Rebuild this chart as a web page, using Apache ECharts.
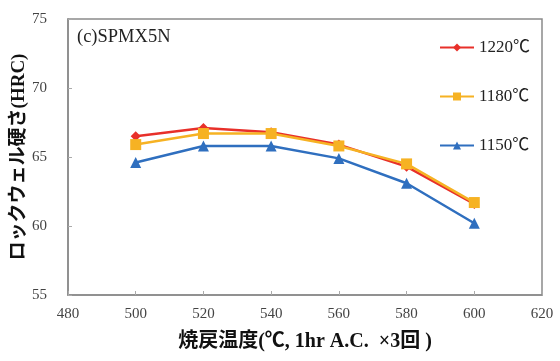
<!DOCTYPE html>
<html><head><meta charset="utf-8">
<script src="https://cdn.jsdelivr.net/npm/echarts@6/dist/echarts.min.js"></script>
<style>html,body{margin:0;padding:0;background:#fff}#c{width:560px;height:361px}</style>
</head><body><div id="c"></div>
<script>
const temps = [500, 520, 540, 560, 580, 600];
const s1220 = [66.5, 67.1, 66.8, 65.9, 64.3, 61.6];
const s1180 = [65.9, 66.7, 66.7, 65.8, 64.5, 61.7];
const s1150 = [64.6, 65.8, 65.8, 64.9, 63.1, 60.2];
const seriesNames = ['1220℃', '1180℃', '1150℃'];
const xName = '焼戻温度(℃, 1hr A.C.  ×3回 )';
const yName = 'ロックウェル硬さ(HRC)';
const titleText = '(c)SPMX5N';

const pair = a => temps.map((t, i) => [t, a[i]]);
const serif = '"Liberation Serif", "Noto Sans CJK JP", serif';
const chart = echarts.init(document.getElementById('c'), null, {renderer: 'canvas'});
chart.setOption({
  animation: false,
  backgroundColor: '#fff',
  title: {text: titleText, left: 72, top: 23, textStyle: {fontFamily: serif, fontSize: 18.5, fontWeight: 'normal', color: '#222'}},
  legend: {
    orient: 'vertical', right: 25, top: 34, itemGap: 32, itemWidth: 34, itemHeight: 10, itemTextGap: 3,
    textStyle: {fontFamily: serif, fontSize: 17, color: '#222'},
    data: seriesNames
  },
  grid: {left: 68, right: 18, top: 19, bottom: 66, containLabel: false, outerBoundsMode: 'none'},
  xAxis: {
    type: 'value', min: 480, max: 620, interval: 20,
    name: xName, nameLocation: 'middle', nameGap: 37, nameMoveOverlap: false,
    nameTextStyle: {fontFamily: serif, fontSize: 20, fontWeight: 'bold', color: '#111'},
    axisLine: {show: true, onZero: false, lineStyle: {color: '#8a8a8a', width: 1.5}},
    axisTick: {show: true, inside: true, length: 4, lineStyle: {color: '#aaa'}},
    axisLabel: {fontFamily: serif, fontSize: 15, color: '#444', margin: 12},
    splitLine: {show: false}
  },
  yAxis: {
    type: 'value', min: 55, max: 75, interval: 5,
    name: yName, nameLocation: 'middle', nameGap: 39, nameMoveOverlap: false,
    nameTextStyle: {fontFamily: serif, fontSize: 19, fontWeight: 'bold', color: '#111'},
    axisLine: {show: true, lineStyle: {color: '#8a8a8a', width: 1.5}},
    axisTick: {show: true, inside: true, length: 4, lineStyle: {color: '#aaa'}},
    axisLabel: {fontFamily: serif, fontSize: 15, color: '#444', margin: 21},
    splitLine: {show: false}
  },
  series: [
    {name: seriesNames[0], type: 'line', data: pair(s1220), symbol: 'diamond', symbolSize: 10,
     lineStyle: {color: '#e8302a', width: 2.5}, itemStyle: {color: '#e8302a'}},
    {name: seriesNames[1], type: 'line', data: pair(s1180), symbol: 'rect', symbolSize: 11,
     lineStyle: {color: '#f6b223', width: 2.5}, itemStyle: {color: '#f6b223'}},
    {name: seriesNames[2], type: 'line', data: pair(s1150), symbol: 'triangle', symbolSize: 11,
     lineStyle: {color: '#2f6fbf', width: 2.5}, itemStyle: {color: '#2f6fbf'}}
  ],
  graphic: [{type: 'rect', shape: {x: 68, y: 19, width: 474, height: 276}, style: {fill: 'none', stroke: '#8a8a8a', lineWidth: 1.5}, silent: true, z: -1}]
});
</script></body></html>
